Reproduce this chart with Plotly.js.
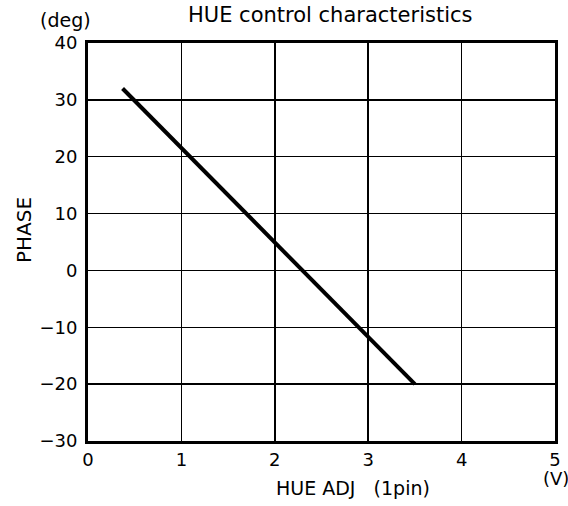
<!DOCTYPE html>
<html>
<head>
<meta charset="utf-8">
<script src="https://cdn.plot.ly/plotly-3.0.1.min.js"></script>
<style>html,body{margin:0;padding:0;background:#fff;}#chart{width:568px;height:506px;}</style>
</head>
<body>
<div id="chart"></div>
<script>
// Data
const hueAdjV = [0.37, 3.5];
const phaseDeg = [32, -20];
const xTicks = [0, 1, 2, 3, 4, 5];
const yTicks = [-30, -20, -10, 0, 10, 20, 30, 40];

const FONT = 'DejaVu Sans, Liberation Sans, Arial, sans-serif';

const trace = {
  x: hueAdjV,
  y: phaseDeg,
  type: 'scatter',
  mode: 'lines',
  line: {color: '#000', width: 4},
  hoverinfo: 'skip'
};

const axisCommon = {
  showline: true,
  linecolor: '#000',
  linewidth: 3,
  mirror: true,
  showgrid: true,
  gridcolor: '#000',
  gridwidth: 1.5,
  zeroline: true,
  zerolinecolor: '#000',
  zerolinewidth: 1.5,
  ticks: '',
  tickfont: {family: FONT, size: 18, color: '#000'},
  fixedrange: true
};

const layout = {
  width: 568,
  height: 506,
  margin: {l: 88, r: 13, t: 43, b: 65},
  paper_bgcolor: '#fff',
  plot_bgcolor: '#fff',
  showlegend: false,
  xaxis: Object.assign({}, axisCommon, {
    range: [0, 5],
    tickmode: 'array',
    tickvals: xTicks,
    ticktext: xTicks.map(String),
    ticklabelstandoff: 0
  }),
  yaxis: Object.assign({}, axisCommon, {
    range: [-30, 40],
    tickmode: 'array',
    tickvals: yTicks,
    ticktext: yTicks.map(v => v < 0 ? '\u2212' + Math.abs(v) : String(v)),
    ticklabelstandoff: 4
  }),
  annotations: [
    {text: 'HUE control characteristics', xref: 'paper', yref: 'paper', x: 0.518, y: 1.070,
     showarrow: false, xanchor: 'center', yanchor: 'middle', font: {family: FONT, size: 21, color: '#000'}},
    {text: '(deg)', xref: 'paper', yref: 'paper', x: -0.049, y: 1.058,
     showarrow: false, xanchor: 'center', yanchor: 'middle', font: {family: FONT, size: 19, color: '#000'}},
    {text: 'PHASE', xref: 'paper', yref: 'paper', x: -0.137, y: 0.530, textangle: -90,
     showarrow: false, xanchor: 'center', yanchor: 'middle', font: {family: FONT, size: 20, color: '#000'}},
    {text: 'HUE ADJ \u00a0\u00a0(1pin)', xref: 'paper', yref: 'paper', x: 0.567, y: -0.118,
     showarrow: false, xanchor: 'center', yanchor: 'middle', font: {family: FONT, size: 19, color: '#000'}},
    {text: '(V)', xref: 'paper', yref: 'paper', x: 1.002, y: -0.095,
     showarrow: false, xanchor: 'center', yanchor: 'middle', font: {family: FONT, size: 18, color: '#000'}}
  ]
};

Plotly.newPlot('chart', [trace], layout, {displayModeBar: false, staticPlot: true});
</script>
</body>
</html>
